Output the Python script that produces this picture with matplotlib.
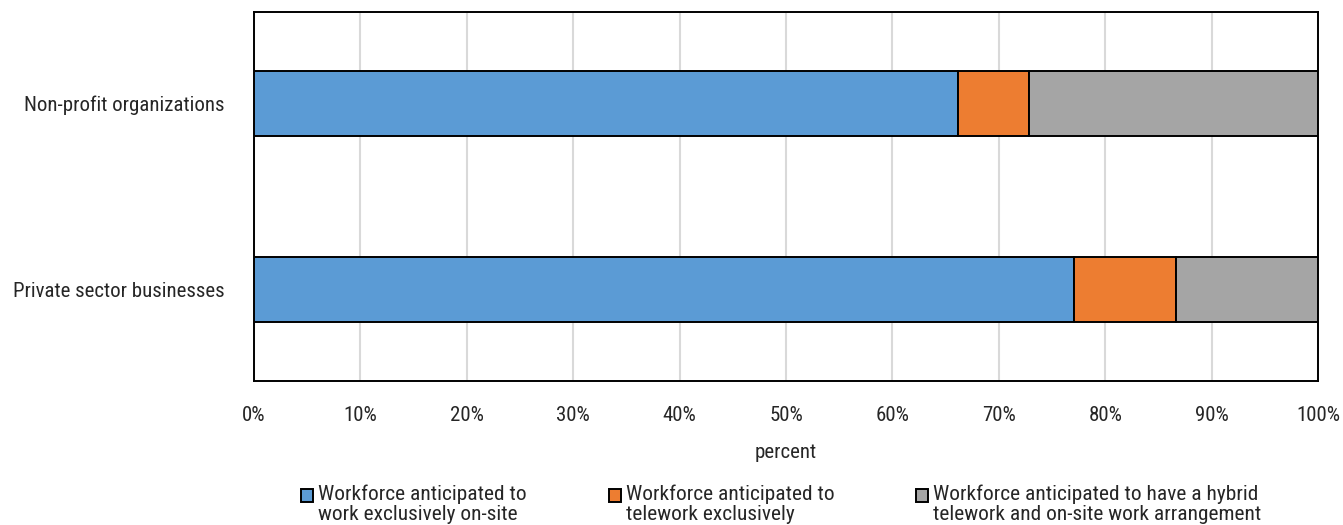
import matplotlib
matplotlib.use("Agg")
import matplotlib.pyplot as plt
from matplotlib.patches import Rectangle
from matplotlib.ticker import PercentFormatter

plt.rcParams['font.family'] = ['Roboto Condensed', 'Liberation Sans Narrow',
                               'Archivo Narrow', 'DejaVu Sans']

# Share of workforce by anticipated arrangement (percent)
categories = ["Private sector businesses", "Non-profit organizations"]
onsite = [77.1, 66.2]
telework = [9.6, 6.6]
hybrid = [13.3, 27.2]

series_labels = [
    "Workforce anticipated to\nwork exclusively on-site",
    "Workforce anticipated to\ntelework exclusively",
    "Workforce anticipated to have a hybrid\ntelework and on-site work arrangement",
]
colors = ["#5B9BD5", "#ED7D31", "#A5A5A5"]
text_col = "#262626"

W, H = 1343, 525
fig = plt.figure(figsize=(W / 100, H / 100), dpi=100)
ax = fig.add_axes([254 / W, 1 - 381 / H, (1318 - 254) / W, (381 - 12) / H])

left = [0.0] * len(categories)
for vals, col, lab in zip([onsite, telework, hybrid], colors, series_labels):
    ax.barh(range(len(categories)), vals, left=left, height=0.35,
            color=col, edgecolor="black", linewidth=1.4, label=lab, zorder=3)
    left = [l + v for l, v in zip(left, vals)]

ax.set_xlim(0, 100)
ax.set_ylim(-0.49, 1.49)
ax.set_xticks(range(0, 101, 10))
ax.xaxis.set_major_formatter(PercentFormatter(decimals=0))
ax.set_yticks(range(len(categories)))
ax.set_yticklabels(categories)
ax.tick_params(axis="both", length=0, labelsize=15, colors=text_col)
ax.tick_params(axis="x", pad=18)
ax.tick_params(axis="y", pad=21)
ax.grid(axis="x", color="#D9D9D9", linewidth=1.5, zorder=0)
for s in ax.spines.values():
    s.set_color("black")
    s.set_linewidth(1.4)

ax.set_xlabel("percent", fontsize=15, color=text_col, labelpad=13)

# legend drawn by hand so the swatch lines up with the first text line
legend_x = [301, 609, 916]
for x0, col, lab in zip(legend_x, colors, series_labels):
    fig.add_artist(Rectangle((x0 / W, 1 - 502 / H), 12 / W, 13 / H,
                             transform=fig.transFigure, facecolor=col,
                             edgecolor="black", linewidth=1.4))
    fig.text((x0 + 17) / W, 1 - 485 / H, lab, fontsize=15.4, color=text_col,
             ha="left", va="top", linespacing=1.0)

fig.savefig("out.png", dpi=100)
